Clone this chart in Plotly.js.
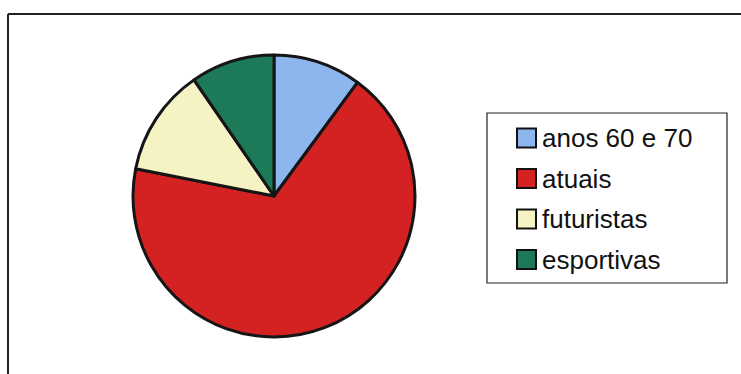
<!DOCTYPE html>
<html>
<head>
<meta charset="utf-8">
<script src="https://cdn.plot.ly/plotly-3.0.1.min.js"></script>
<style>html,body{margin:0;padding:0;background:#fff;}#chart{width:741px;height:374px;}</style>
</head>
<body>
<div id="chart"></div>
<script>
// Data (percent shares)
const labels = ["anos 60 e 70", "atuais", "futuristas", "esportivas"];
const values = [10.1, 68.0, 12.3, 9.6];
const colors = ["#8db6ee", "#d42222", "#f5f2c4", "#1d7a58"];

const W = 741, H = 374;
const cx = 274, cy = 196, r = 141;

const trace = {
  type: "pie",
  labels: labels,
  values: values,
  sort: false,
  direction: "clockwise",
  rotation: 0,
  textinfo: "none",
  hoverinfo: "label+percent",
  marker: { colors: colors, line: { color: "#151515", width: 3 } },
  domain: {
    x: [(cx - r) / W, (cx + r) / W],
    y: [(H - (cy + r)) / H, (H - (cy - r)) / H]
  },
  showlegend: false
};

// Custom legend built from the labels/colors arrays
const shapes = [];
const annotations = [];
// outer frame (top + left lines)
shapes.push({ type: "line", xref: "paper", yref: "paper", x0: 8 / W, x1: 1, y0: 1 - 14 / H, y1: 1 - 14 / H, line: { color: "#222", width: 2 } });
shapes.push({ type: "line", xref: "paper", yref: "paper", x0: 8 / W, x1: 8 / W, y0: 0, y1: 1 - 14 / H, line: { color: "#222", width: 2 } });
// legend box
const lx0 = 487, ly0 = 113, lx1 = 727, ly1 = 283;
shapes.push({ type: "rect", xref: "paper", yref: "paper", x0: lx0 / W, x1: lx1 / W, y0: 1 - ly1 / H, y1: 1 - ly0 / H, line: { color: "#222", width: 1.2 }, fillcolor: "rgba(0,0,0,0)" });
const rowY0 = 138, rowStep = 40.5, sw = 19, swX = 517, txtX = 540;
labels.forEach(function (lab, i) {
  const yc = rowY0 + i * rowStep;
  shapes.push({ type: "rect", xref: "paper", yref: "paper",
    x0: swX / W, x1: (swX + sw) / W,
    y0: 1 - (yc + sw / 2) / H, y1: 1 - (yc - sw / 2) / H,
    fillcolor: colors[i], line: { color: "#111", width: 2 } });
  annotations.push({ xref: "paper", yref: "paper", x: txtX / W, y: 1 - yc / H,
    xanchor: "left", yanchor: "middle", showarrow: false, text: lab,
    font: { family: "Liberation Sans, Arial, sans-serif", size: 26, color: "#111" } });
});

const layout = {
  width: W, height: H,
  margin: { l: 0, r: 0, t: 0, b: 0 },
  paper_bgcolor: "#ffffff",
  plot_bgcolor: "#ffffff",
  shapes: shapes,
  annotations: annotations,
  showlegend: false
};

Plotly.newPlot("chart", [trace], layout, { displayModeBar: false, staticPlot: true });
</script>
</body>
</html>
